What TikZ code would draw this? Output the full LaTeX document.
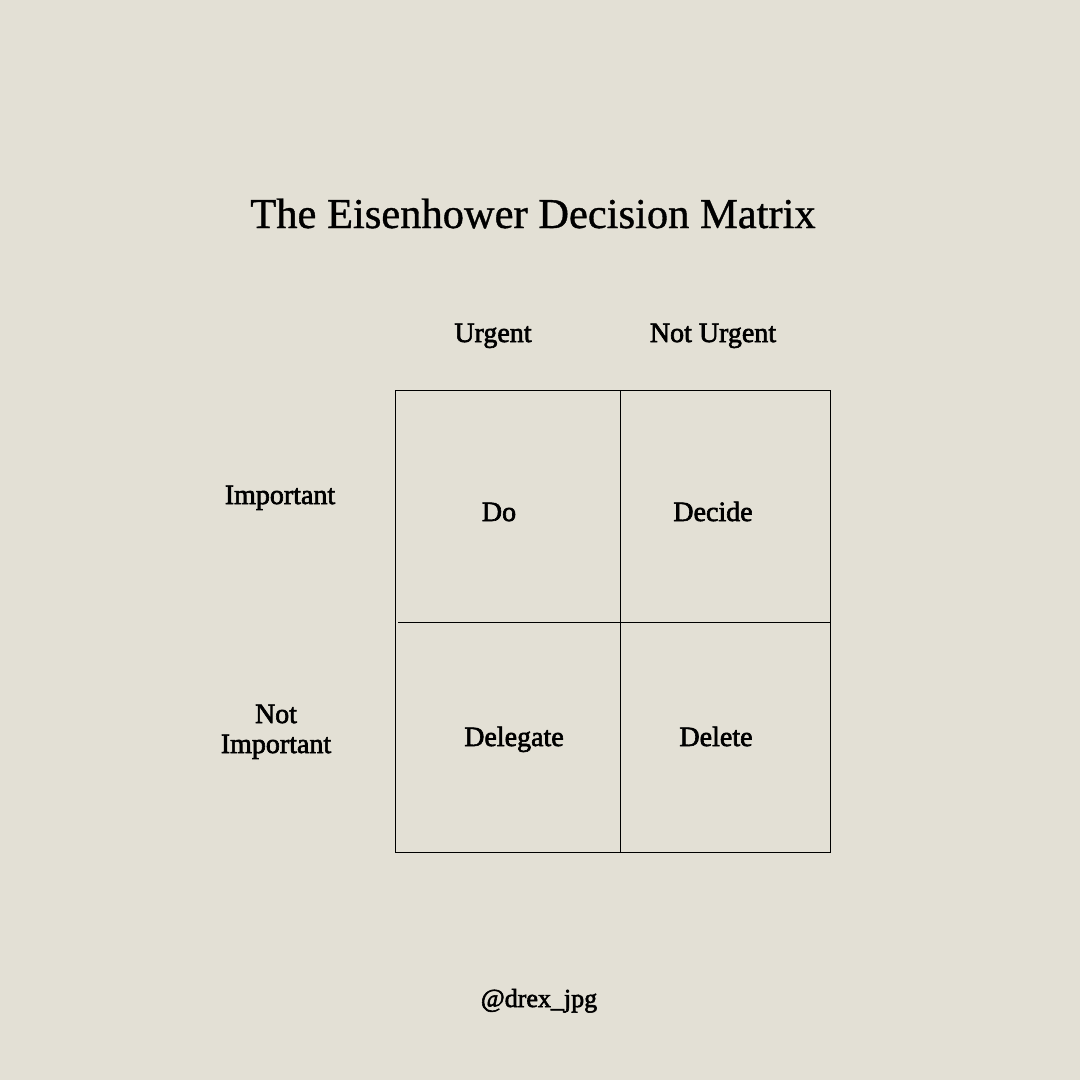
\documentclass[tikz,border=0pt]{standalone}
\usepackage{fontspec}
\setmainfont{Liberation Serif}
\newfontfamily\lblfont[FakeBold=2.2]{Liberation Serif}
\newfontfamily\ttlfont[FakeBold=0.9]{Liberation Serif}
\definecolor{bg}{HTML}{E3E0D5}
\begin{document}
\begin{tikzpicture}[x=1pt,y=-1pt,
  lbl/.style={anchor=base,font=\lblfont\fontsize{28}{31}\selectfont,text=black,inner sep=0pt},
  grid/.style={draw=black,line width=0.9pt}]
\fill[bg] (0,0) rectangle (1080,1080);
\useasboundingbox (0,0) rectangle (1080,1080);
\node[anchor=base,font=\ttlfont\fontsize{42.5}{46}\selectfont,inner sep=0pt] (title) at (533,228) {The Eisenhower Decision Matrix};
\node[lbl] (urg) at (493,342) {Urgent};
\node[lbl] (nurg) at (713,342) {Not Urgent};
\node[lbl] (imp) at (280,504) {Important};
\node[lbl,align=center] (nimp) at (276,753) {Not\\[-1pt]Important};
\coordinate (tl) at (395,390);
\coordinate (br) at (830,852);
\coordinate (tm) at (620,390);
\coordinate (bm) at (620,852);
\coordinate (ml) at (398,622);
\coordinate (mr) at (830,622);
\draw[grid] (tl) rectangle (br);
\draw[grid] (tm) -- (bm);
\draw[grid] (ml) -- (mr);
\node[lbl] (do) at (499,521) {Do};
\node[lbl] (decide) at (713,521) {Decide};
\node[lbl] (delegate) at (514,746) {Delegate};
\node[lbl] (delete) at (716,746) {Delete};
\node[lbl,font=\lblfont\fontsize{26}{29}\selectfont] (handle) at (539,1007) {@drex\_jpg};
\end{tikzpicture}
\end{document}
